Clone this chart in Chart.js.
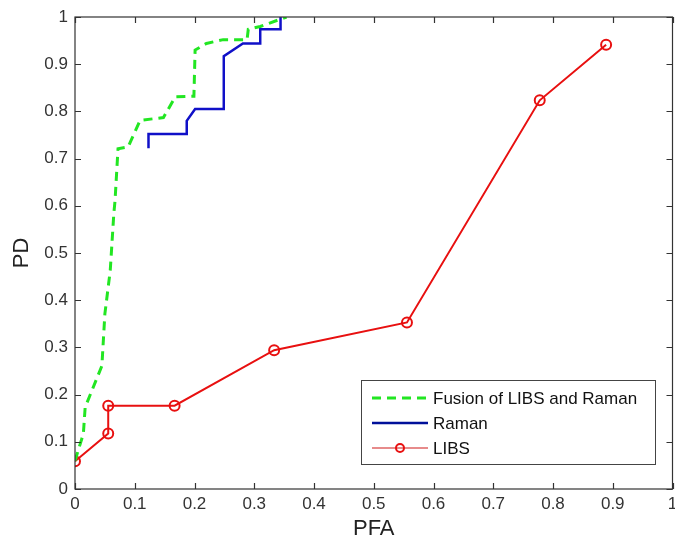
<!DOCTYPE html>
<html><head><meta charset="utf-8">
<script src="https://cdn.jsdelivr.net/npm/chart.js@4.4.0/dist/chart.umd.min.js"></script>
<style>html,body{margin:0;padding:0;background:#fff}#wrap{width:675px;height:544px}</style>
</head><body><div id="wrap"><canvas id="c" width="675" height="544"></canvas></div>
<script>
const fusionPFA = [0, 0.014, 0.017, 0.045, 0.050, 0.059, 0.065, 0.067, 0.072, 0.089, 0.109, 0.148, 0.168, 0.199, 0.201, 0.220, 0.248, 0.288, 0.290, 0.310, 0.354];
const fusionPD  = [0.06, 0.117, 0.173, 0.261, 0.371, 0.463, 0.584, 0.611, 0.721, 0.725, 0.781, 0.787, 0.831, 0.832, 0.930, 0.944, 0.952, 0.952, 0.974, 0.980, 1.0];
const ramanPFA = [0.123, 0.123, 0.187, 0.187, 0.201, 0.249, 0.249, 0.281, 0.310, 0.310, 0.344, 0.344];
const ramanPD  = [0.722, 0.752, 0.752, 0.780, 0.805, 0.805, 0.917, 0.944, 0.944, 0.974, 0.974, 1.0];
const libsPFA = [0, 0.0556, 0.0556, 0.1667, 0.3333, 0.5556, 0.7778, 0.8889];
const libsPD  = [0.0588, 0.1176, 0.1765, 0.1765, 0.2941, 0.3529, 0.8235, 0.9412];
const xTicks = [0, 0.1, 0.2, 0.3, 0.4, 0.5, 0.6, 0.7, 0.8, 0.9, 1];
const yTicks = [0, 0.1, 0.2, 0.3, 0.4, 0.5, 0.6, 0.7, 0.8, 0.9, 1];
const seriesNames = ['Fusion of LIBS and Raman', 'Raman', 'LIBS'];

const pts = (xs, ys) => xs.map((x, i) => ({x, y: ys[i]}));
const FONT = '"Liberation Sans", Arial, sans-serif';

const frame = {
  id: 'frame',
  afterDatasetsDraw(chart) {
    const {ctx, chartArea: a, scales: {x, y}} = chart;
    ctx.save();
    ctx.strokeStyle = '#333';
    ctx.lineWidth = 1.2;
    ctx.strokeRect(a.left, a.top, a.right - a.left, a.bottom - a.top);
    const L = 6;
    ctx.beginPath();
    xTicks.forEach(v => { const px = Math.round(x.getPixelForValue(v)) + 0.5;
      ctx.moveTo(px, a.bottom); ctx.lineTo(px, a.bottom - L);
      ctx.moveTo(px, a.top); ctx.lineTo(px, a.top + L); });
    yTicks.forEach(v => { const py = Math.round(y.getPixelForValue(v)) + 0.5;
      ctx.moveTo(a.left, py); ctx.lineTo(a.left + L, py);
      ctx.moveTo(a.right, py); ctx.lineTo(a.right - L, py); });
    ctx.stroke();
    // legend box
    const bx = 361, by = 380, bw = 294, bh = 84;
    ctx.fillStyle = '#fff';
    ctx.fillRect(bx, by, bw, bh);
    ctx.strokeStyle = '#444';
    ctx.lineWidth = 1;
    ctx.strokeRect(bx + 0.5, by + 0.5, bw, bh);
    ctx.font = '17px ' + FONT;
    ctx.textBaseline = 'middle';
    ctx.fillStyle = '#111';
    const legendColors = ['#22e622', '#00109a', '#d01818'];
    chart.data.datasets.forEach((ds, i) => {
      const cy = by + 18 + i * 25;
      const x0 = bx + 11, x1 = bx + 67;
      ctx.save();
      ctx.strokeStyle = legendColors[i];
      ctx.lineWidth = i === 2 ? 1.2 : ds.borderWidth;
      ctx.setLineDash(ds.borderDash || []);
      ctx.beginPath(); ctx.moveTo(x0, cy); ctx.lineTo(x1, cy); ctx.stroke();
      ctx.setLineDash([]);
      if (i === 2) { ctx.strokeStyle = '#e81010'; ctx.lineWidth = 2; ctx.beginPath(); ctx.arc((x0 + x1) / 2, cy, 4, 0, Math.PI * 2); ctx.stroke(); }
      ctx.restore();
      ctx.fillText(seriesNames[i], x1 + 5, cy + 1);
    });
    ctx.restore();
  }
};

new Chart(document.getElementById('c'), {
  type: 'line',
  data: {
    datasets: [
      { label: seriesNames[0], data: pts(fusionPFA, fusionPD), borderColor: '#22e622', borderWidth: 3, borderDash: [9, 6], pointRadius: 0, fill: false, tension: 0 },
      { label: seriesNames[1], data: pts(ramanPFA, ramanPD), borderColor: '#1010c8', borderWidth: 2.5, pointRadius: 0, fill: false, tension: 0 },
      { label: seriesNames[2], data: pts(libsPFA, libsPD), borderColor: '#e81010', borderWidth: 2, pointRadius: 5, pointBorderWidth: 2, pointBorderColor: '#e81010', pointBackgroundColor: 'rgba(0,0,0,0)', fill: false, tension: 0 }
    ]
  },
  options: {
    responsive: false, animation: false, devicePixelRatio: 1,
    layout: { autoPadding: false, padding: { left: 0, top: 17, right: 2.5, bottom: 0 } },
    plugins: { legend: { display: false }, tooltip: { enabled: false } },
    scales: {
      x: { type: 'linear', min: 0, max: 1,
        afterBuildTicks: s => { s.ticks = xTicks.map(v => ({value: v})); },
        afterFit: s => { s.height = 55; s.paddingLeft = 0; s.paddingRight = 0; },
        grid: { display: false, drawTicks: false }, border: { display: false },
        ticks: { padding: 5, color: '#333', font: { family: FONT, size: 17 }, callback: v => String(v), maxRotation: 0 },
        title: { display: true, text: 'PFA', color: '#222', font: { family: FONT, size: 22 }, padding: { top: 0, bottom: 2 } } },
      y: { type: 'linear', min: 0, max: 1,
        afterBuildTicks: s => { s.ticks = yTicks.map(v => ({value: v})); },
        afterFit: s => { s.width = 75; s.paddingTop = 0; s.paddingBottom = 0; },
        grid: { display: false, drawTicks: false }, border: { display: false },
        ticks: { padding: 7, color: '#333', font: { family: FONT, size: 17 }, callback: v => String(v) },
        title: { display: true, text: 'PD', color: '#222', font: { family: FONT, size: 22 }, padding: { top: 9, bottom: 0 } } }
    }
  },
  plugins: [frame]
});
</script></body></html>
